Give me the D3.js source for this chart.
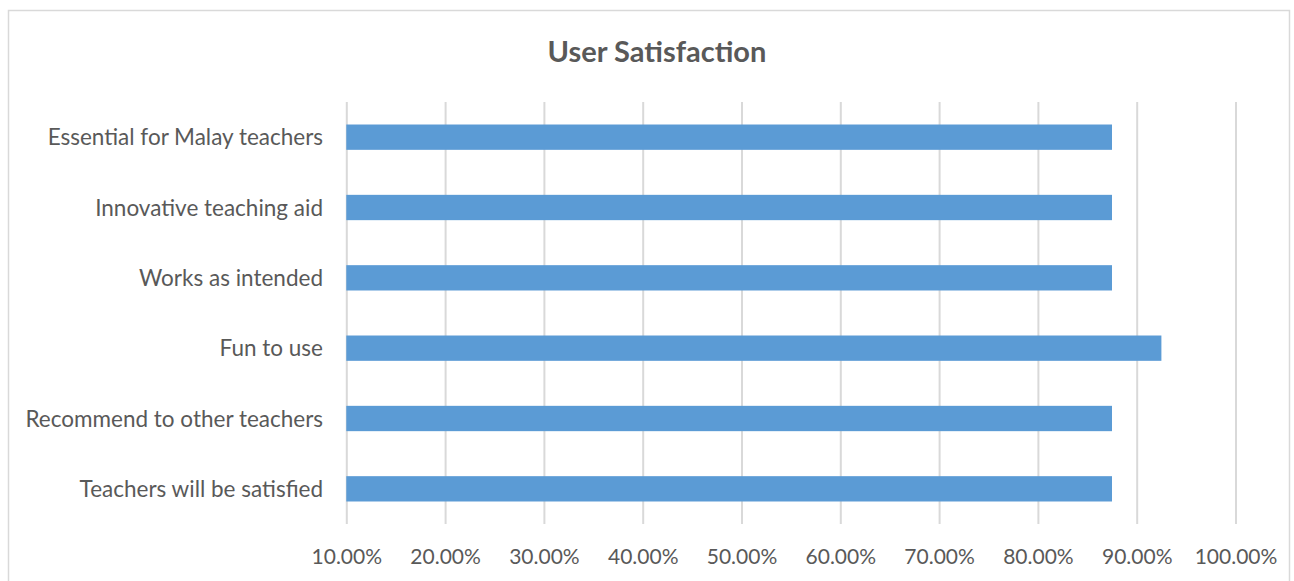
<!DOCTYPE html>
<html><head><meta charset="utf-8">
<script src="https://cdn.jsdelivr.net/npm/d3@7"></script>
<style>body{margin:0;background:#fff;} svg{display:block;}</style>
</head><body>
<svg id="c" width="1294" height="581"></svg>
<script>
const categories = ["Essential for Malay teachers","Innovative teaching aid","Works as intended","Fun to use","Recommend to other teachers","Teachers will be satisfied"];
const values = [0.875,0.875,0.875,0.925,0.875,0.875];
const tickValues = [0.1,0.2,0.3,0.4,0.5,0.6,0.7,0.8,0.9,1.0];
const title = "User Satisfaction";

const svg = d3.select("#c");
const font = "Lato, 'Open Sans', sans-serif";
svg.append("rect").attr("x",8.5).attr("y",10.5).attr("width",1281).attr("height",580)
  .attr("fill","#fff").attr("stroke","#d9d9d9").attr("stroke-width",1.5);

const x = d3.scaleLinear().domain([0.1,1.0]).range([346.3,1235.5]);
const y = d3.scaleBand().domain(categories).range([102,524]).paddingInner(0.64).paddingOuter(0.32);

const grid = svg.append("g").attr("transform","translate(0,524)")
  .call(d3.axisBottom(x).tickValues(tickValues).tickSize(-422).tickFormat(d3.format(".2%")).tickPadding(25));
grid.select(".domain").remove();
grid.selectAll(".tick line").attr("stroke","#d9d9d9").attr("stroke-width",2);
grid.selectAll(".tick text").attr("fill","#595959").attr("font-size",21).attr("font-family",font);

svg.append("g").selectAll("rect").data(categories).join("rect")
  .attr("x",x(0.1)).attr("y",d=>y(d)).attr("height",y.bandwidth())
  .attr("width",(d,i)=>x(values[i])-x(0.1)).attr("fill","#5b9bd5");

const ya = svg.append("g").attr("transform","translate(346,1)")
  .call(d3.axisLeft(y).tickSize(0).tickPadding(23));
ya.select(".domain").remove();
ya.selectAll(".tick text").attr("fill","#595959").attr("font-size",22.5).attr("font-family",font);

svg.append("text").attr("x",657).attr("y",62).attr("text-anchor","middle")
  .attr("font-family",font).attr("font-weight","bold").attr("font-size",29)
  .attr("fill","#595959").text(title);
</script>
</body></html>
